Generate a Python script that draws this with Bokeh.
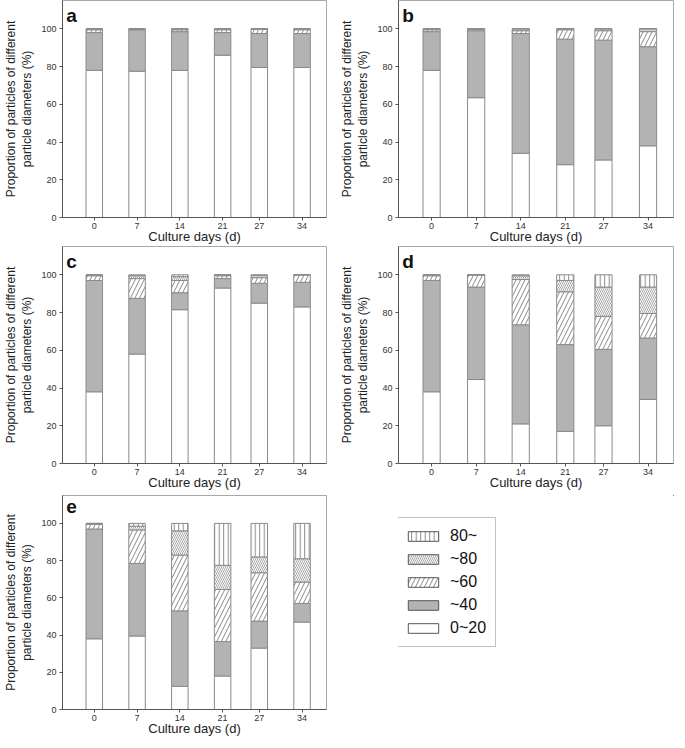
from bokeh.plotting import figure
from bokeh.layouts import gridplot
from bokeh.models import FixedTicker, Label, Legend, LegendItem, ColumnDataSource, Range1d
from bokeh.embed import file_html
from bokeh.resources import INLINE
import numpy as np

days = [0, 7, 14, 21, 27, 34]
classes = ["0~20", "~40", "~60", "~80", "80~"]

# segment proportions (%) per size class, per panel
a_0_20 = [78, 77.5, 78, 86, 79.5, 79.5]
a_40 = [20, 22, 20.5, 12, 18, 18]
a_60 = [1.5, 0.3, 1, 1.5, 2.3, 2]
a_80 = [0.5, 0.2, 0.5, 0.5, 0.2, 0.5]
a_80p = [0, 0, 0, 0, 0, 0]

b_0_20 = [78, 63.5, 34, 28, 30.5, 38]
b_40 = [20.5, 35.5, 63.5, 66.5, 63.5, 52.5]
b_60 = [1, 0.8, 1.5, 5, 5, 8]
b_80 = [0.5, 0.2, 1, 0.5, 1, 1.5]
b_80p = [0, 0, 0, 0, 0, 0]

c_0_20 = [38, 58, 81.5, 93, 85, 83]
c_40 = [59, 29.5, 9, 5, 10.5, 13]
c_60 = [2.5, 10.5, 6.5, 1.5, 3, 4]
c_80 = [0.5, 1.5, 2, 0.5, 1.2, 0]
c_80p = [0, 0.5, 1, 0, 0.3, 0]

d_0_20 = [38, 44.5, 21, 17, 20, 34]
d_40 = [59, 49, 52.5, 46, 40.5, 32.5]
d_60 = [2.5, 6.5, 24, 28, 17.5, 13]
d_80 = [0.5, 0, 2, 6, 15.5, 14]
d_80p = [0, 0, 0.5, 3, 6.5, 6.5]

e_0_20 = [38, 39.5, 12.5, 18, 33, 47]
e_40 = [59, 39, 40.5, 18.5, 14.5, 10]
e_60 = [2.5, 18, 30, 28, 26, 11.5]
e_80 = [0.5, 2, 13, 13, 8.5, 12.5]
e_80p = [0, 1.5, 4, 22.5, 18, 19]

panels = [
    ("a", [a_0_20, a_40, a_60, a_80, a_80p]),
    ("b", [b_0_20, b_40, b_60, b_80, b_80p]),
    ("c", [c_0_20, c_40, c_60, c_80, c_80p]),
    ("d", [d_0_20, d_40, d_60, d_80, d_80p]),
    ("e", [e_0_20, e_40, e_60, e_80, e_80p]),
]

FONT = "Liberation Sans"
OUTLINE = "#8a8a8a"
GRAY = "#b3b3b3"
HATCH = "#6a6a6a"
styles = [
    dict(fill_color="white", hatch_pattern=None),
    dict(fill_color=GRAY, hatch_pattern=None),
    dict(fill_color="white", hatch_pattern="/", hatch_scale=9, hatch_weight=0.8, hatch_color=HATCH),
    dict(fill_color="white", hatch_pattern="\\", hatch_scale=4, hatch_weight=0.6, hatch_color=HATCH),
    dict(fill_color="white", hatch_pattern="|", hatch_scale=4.5, hatch_weight=0.8, hatch_color=HATCH),
]

def clean(st):
    return {k: v for k, v in st.items() if v is not None}

def make_panel(letter, series, left_col, top_border):
    w = 336 if left_col else 340
    p = figure(width=w, height=246, output_backend="svg", toolbar_location=None,
               x_range=Range1d(-5.2, 38), y_range=Range1d(0, 115),
               min_border_left=38 if left_col else 49,
               min_border_right=10 if left_col else 3,
               min_border_top=top_border, min_border_bottom=10)
    p.grid.visible = False
    p.outline_line_color = "#a8a8a8"
    p.outline_line_width = 1
    p.background_fill_color = "white"
    p.border_fill_color = "white"
    bottom = np.zeros(len(days))
    for vals, st in zip(series, styles):
        top = bottom + np.array(vals, dtype=float)
        src = ColumnDataSource(dict(x=days, bottom=bottom, top=top))
        p.vbar(x="x", bottom="bottom", top="top", width=2.7, source=src,
               line_color=OUTLINE, line_width=1, **clean(st))
        bottom = top
    p.xaxis.ticker = FixedTicker(ticks=days)
    p.yaxis.ticker = FixedTicker(ticks=[0, 20, 40, 60, 80, 100])
    for ax in (p.xaxis[0], p.yaxis[0]):
        ax.axis_line_color = "#555555"
        ax.major_tick_line_color = "#555555"
        ax.major_tick_in = 0
        ax.major_tick_out = 3
        ax.minor_tick_line_color = None
        ax.major_label_text_font = FONT
        ax.major_label_text_font_size = "9px"
        ax.major_label_text_color = "#333333"
        ax.axis_label_text_font = FONT
        ax.axis_label_text_font_style = "normal"
        ax.axis_label_text_color = "#222222"
    p.xaxis.axis_label = "Culture days (d)"
    p.xaxis.axis_label_text_font_size = "13px"
    p.xaxis.axis_label_standoff = -3
    p.xaxis.major_label_standoff = 2
    p.yaxis.axis_label = "Proportion of particles of different\nparticle diameters (%)"
    p.yaxis.axis_label_text_font_size = "12px"
    p.yaxis.axis_label_standoff = 4
    p.yaxis.major_label_standoff = 3
    p.add_layout(Label(x=-4.6, y=112.5, text=letter, text_font=FONT,
                       text_font_size="19px", text_font_style="bold",
                       text_baseline="top", text_color="#111111"))
    return p

pa = make_panel("a", panels[0][1], True, 0)
pb = make_panel("b", panels[1][1], False, 0)
pc = make_panel("c", panels[2][1], True, 0)
pd_ = make_panel("d", panels[3][1], False, 0)
pe = make_panel("e", panels[4][1], True, 3)

# legend panel
pl = figure(width=340, height=246, output_backend="svg", toolbar_location=None,
            x_range=Range1d(0, 1), y_range=Range1d(0, 1),
            x_axis_type=None, y_axis_type=None,
            min_border=0)
pl.grid.visible = False
pl.outline_line_color = None
items = []
for name, st in zip(classes, styles):
    # data lies outside the visible range; only the legend glyph is seen
    r = pl.vbar(x=[5], top=[6], bottom=[5], width=0.1, line_color="#555555",
                line_width=1, **clean(st))
    items.append(LegendItem(label=name, renderers=[r]))
items = items[::-1]
leg = Legend(items=items, location=(-4, 62), glyph_width=38, glyph_height=12,
             label_text_font=FONT, label_text_font_size="16px",
             label_text_color="#111111", label_standoff=8, spacing=5,
             padding=9, margin=0, border_line_color="#888888",
             border_line_width=1.2, background_fill_alpha=1)
pl.add_layout(leg, "center")

grid = gridplot([[pa, pb], [pc, pd_], [pe, pl]], toolbar_location=None)
open("out.html", "w").write(file_html(grid, INLINE))
